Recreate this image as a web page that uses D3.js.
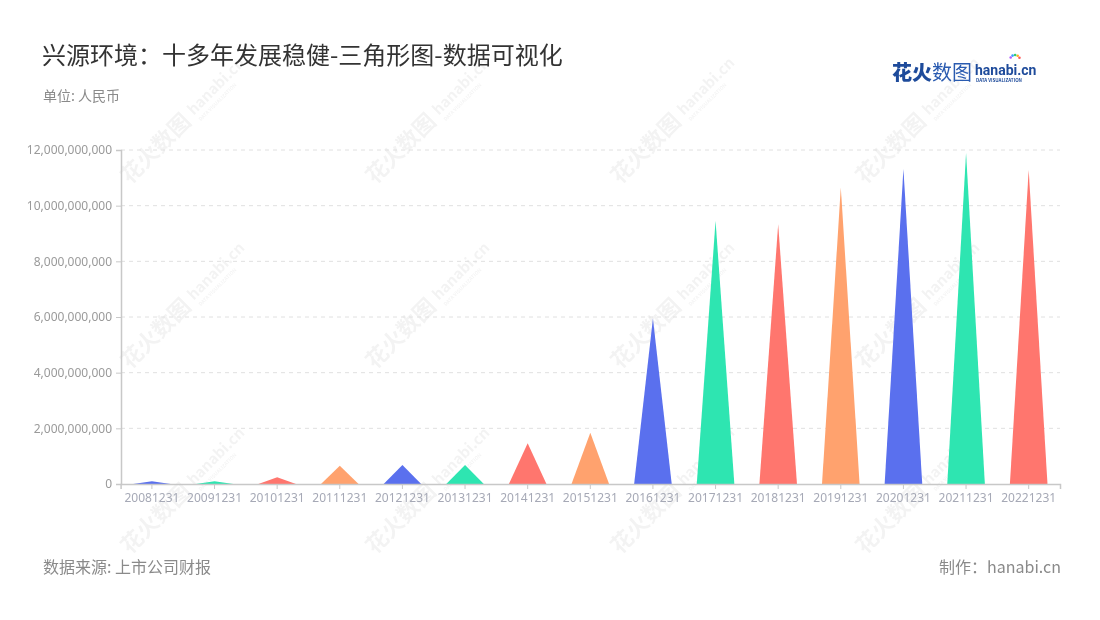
<!DOCTYPE html>
<html><head><meta charset="utf-8">
<script src="https://cdn.jsdelivr.net/npm/d3@7"></script>
<style>
html,body{margin:0;padding:0;background:#fff;}
svg{display:block;font-family:"Noto Sans CJK SC","Noto Sans",sans-serif;}
</style></head>
<body><svg id="c" width="1100" height="620"></svg>
<script>
const categories = ["20081231","20091231","20101231","20111231","20121231","20131231","20141231","20151231","20161231","20171231","20181231","20191231","20201231","20211231","20221231"];
const values = [100000000,100000000,240000000,660000000,680000000,680000000,1460000000,1840000000,5950000000,9460000000,9330000000,10650000000,11320000000,11900000000,11280000000];
const yTicks = [0,2000000000,4000000000,6000000000,8000000000,10000000000,12000000000];
const palette = ["#5A70EE","#2EE5B1","#FF766E","#FFA26E"];
const titleText = "兴源环境：十多年发展稳健-三角形图-数据可视化";
const unitText = "单位: 人民币";
const sourceText = "数据来源: 上市公司财报";
const makerText = "制作：hanabi.cn";

const svg = d3.select("#c");
const x = d3.scaleBand().domain(categories).range([120.6, 1060]).padding(0);
const y = d3.scaleLinear().domain([0, 12000000000]).range([484, 150]);

// watermarks
const wm = svg.append("g").attr("fill", "#000").attr("opacity", 0.05);
[130, 375, 620, 865].forEach(cx => {
  [185, 370, 555].forEach(cy => {
    const g = wm.append("g").attr("transform", `translate(${cx},${cy}) rotate(-45)`);
    g.append("text").attr("x", 0).attr("y", 0).attr("font-size", 22).attr("font-weight", 700).text("花火数图");
    g.append("text").attr("x", 94).attr("y", -4).attr("font-size", 15).attr("font-weight", 700).text("hanabi.cn");
    g.append("text").attr("x", 95).attr("y", 5).attr("font-size", 5).attr("font-weight", 700).text("DATA VISUALIZATION");
  });
});

// grid
svg.append("g").selectAll("line").data(yTicks.filter(d => d > 0)).join("line")
  .attr("x1", 121).attr("x2", 1060)
  .attr("y1", d => y(d)).attr("y2", d => y(d))
  .attr("stroke", "#e0e0e0").attr("stroke-dasharray", "4,4");

// y axis
const ya = svg.append("g").attr("transform", "translate(121,0)")
  .call(d3.axisLeft(y).tickValues(yTicks).tickFormat(d3.format(",")).tickSize(5).tickPadding(4));
ya.select(".domain").attr("stroke", "#c8c8c8").attr("stroke-width", 1.5);
ya.selectAll(".tick line").attr("stroke", "#c8c8c8");
ya.selectAll("text").attr("fill", "#9a9a9a").attr("font-size", 12).attr("font-family", "'Noto Sans','Noto Sans CJK SC',sans-serif");

// triangles
const bw = x.bandwidth() * 0.6;
svg.append("g").selectAll("path").data(categories).join("path")
  .attr("d", (c, i) => {
    const cx = x(c) + x.bandwidth() / 2;
    return `M${cx - bw / 2},${y(0)}L${cx},${y(values[i])}L${cx + bw / 2},${y(0)}Z`;
  })
  .attr("fill", (c, i) => palette[i % palette.length]);

// x axis
const xa = svg.append("g").attr("transform", "translate(0,484)")
  .call(d3.axisBottom(x).tickSize(5).tickPadding(4));
xa.select(".domain").attr("stroke", "#c8c8c8").attr("stroke-width", 1.5);
xa.selectAll(".tick line").attr("stroke", "#c8c8c8");
xa.selectAll("text").attr("fill", "#a6a9b6").attr("font-size", 12).attr("font-family", "'Noto Sans','Noto Sans CJK SC',sans-serif");

// titles
svg.append("text").attr("x", 42).attr("y", 64).attr("font-size", 24).attr("fill", "#333").text(titleText);
svg.append("text").attr("x", 43).attr("y", 101).attr("font-size", 14).attr("fill", "#8a8a8a").text(unitText);
svg.append("text").attr("x", 43).attr("y", 573).attr("font-size", 16).attr("fill", "#8a8a8a").text(sourceText);
svg.append("text").attr("x", 1061).attr("y", 573).attr("text-anchor", "end").attr("font-size", 16).attr("fill", "#8a8a8a").text(makerText);

// logo
const logo = svg.append("g").attr("transform", "translate(892,80)");
logo.append("text").attr("x", 0).attr("y", 0).attr("font-size", 20).attr("font-weight", 900).attr("fill", "#1e4b9b").text("花火");
logo.append("text").attr("x", 40).attr("y", 0).attr("font-size", 20).attr("font-weight", 400).attr("fill", "#2a5bb0").text("数图");
logo.append("text").attr("x", 83).attr("y", -5).attr("font-size", 14).attr("font-weight", 700).attr("fill", "#1e4b9b").attr("font-family", "Roboto,sans-serif").text("hanabi.cn");
logo.append("text").attr("x", 84).attr("y", 2).attr("font-size", 4.5).attr("font-weight", 700).attr("fill", "#1e4b9b").text("DATA VISUALIZATION");
const sparkColors = ["#ff5a5a","#ffb020","#2ecc71","#3aa0ff","#b05aff"];
sparkColors.forEach((c, i) => {
  const a = -Math.PI * (0.15 + i * 0.17);
  logo.append("circle").attr("cx", 123 + Math.cos(a) * 5).attr("cy", -20 + Math.sin(a) * 5).attr("r", 1.3).attr("fill", c);
});
</script></body></html>
